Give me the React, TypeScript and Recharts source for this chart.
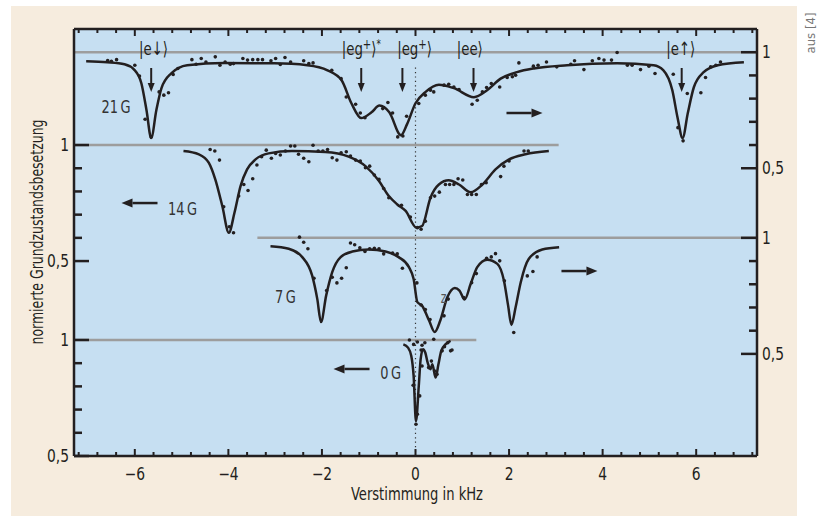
import React from 'react'
import {
  ComposedChart,
  Line,
  Scatter,
  XAxis,
  YAxis,
  CartesianGrid,
  ReferenceLine,
  ReferenceDot,
} from 'recharts'

const FONT = "'Liberation Sans Narrow', 'DejaVu Sans Condensed', 'Arial Narrow', sans-serif"
const INK = '#231f20'
const BEIGE = '#f6ecde'
const PLOT_BG = '#c6dff2'
const GREY_LINE = '#9d9d9d'
const SQUEEZE = 0.8 // the original uses a condensed face

// vertical offsets of the four stacked spectra (in population units)
const OFFSET_21G = 1.24
const OFFSET_14G = 0.84
const OFFSET_7G = 0.44
const OFFSET_0G = 0

// [detuning kHz, normalised ground state population]
const fit21: [number, number][] = [
  [-7.04, 0.961], [-6.59, 0.957], [-6.22, 0.948], [-6.01, 0.924], [-5.86, 0.866], [-5.75, 0.75],
  [-5.65, 0.63], [-5.54, 0.75], [-5.43, 0.845], [-5.22, 0.909], [-4.88, 0.944], [-4.09, 0.953],
  [-3.02, 0.952], [-2.31, 0.944], [-1.88, 0.922], [-1.58, 0.879], [-1.37, 0.78], [-1.16, 0.716],
  [-0.94, 0.741], [-0.77, 0.77], [-0.56, 0.741], [-0.31, 0.642], [-0.18, 0.69], [0, 0.78],
  [0.21, 0.828], [0.5, 0.86], [0.82, 0.845], [1.25, 0.806], [1.53, 0.836], [1.82, 0.886],
  [2.17, 0.914], [2.53, 0.93], [3.24, 0.944], [4.31, 0.952], [5.09, 0.944], [5.3, 0.922],
  [5.49, 0.836], [5.6, 0.72], [5.71, 0.63], [5.82, 0.737], [5.95, 0.849], [6.16, 0.914],
  [6.46, 0.944], [7.02, 0.957],
]
const dots21: [number, number][] = [
  [-6.58, 0.964], [-6.5, 0.961], [-6.39, 0.968], [-6.0, 0.944], [-5.9, 0.897], [-5.78, 0.711],
  [-5.65, 0.635], [-5.48, 0.829], [-5.38, 0.815], [-5.28, 0.825], [-5.18, 0.904], [-5.08, 0.93],
  [-4.78, 0.968], [-4.69, 0.948], [-4.58, 0.973], [-4.48, 0.958], [-4.28, 0.98], [-4.18, 0.944],
  [-4.07, 0.958], [-3.96, 0.948], [-3.89, 0.951], [-3.69, 0.973], [-3.59, 0.966], [-3.48, 0.968],
  [-3.37, 0.968], [-3.27, 0.968], [-3.09, 0.963], [-2.99, 0.973], [-2.89, 0.947], [-2.79, 0.977],
  [-2.67, 0.958], [-2.39, 0.963], [-2.28, 0.951], [-2.19, 0.954], [-1.79, 0.922], [-1.59, 0.886],
  [-1.48, 0.807], [-1.28, 0.776], [-1.18, 0.738], [-1.08, 0.718], [-0.7, 0.757], [-0.59, 0.783],
  [-0.49, 0.738], [-0.38, 0.635], [-0.27, 0.639], [-0.19, 0.724], [0.07, 0.779], [0.21, 0.815],
  [0.32, 0.836], [0.39, 0.829], [0.61, 0.858], [0.71, 0.862], [0.82, 0.85], [0.93, 0.839],
  [1.21, 0.776], [1.32, 0.793], [1.43, 0.829], [1.52, 0.848], [1.62, 0.865], [1.8, 0.85],
  [1.96, 0.891], [2.07, 0.894], [2.14, 0.901], [2.21, 0.954], [2.52, 0.94], [2.62, 0.944],
  [2.8, 0.958], [3.02, 0.937], [3.32, 0.948], [3.4, 0.963], [3.6, 0.925], [3.78, 0.963],
  [3.92, 0.973], [4.03, 0.966], [4.19, 0.966], [4.31, 0.999], [4.53, 0.944], [4.63, 0.944],
  [4.81, 0.925], [4.99, 0.94], [5.12, 0.908], [5.51, 0.905], [5.61, 0.675], [5.72, 0.618],
  [5.81, 0.822], [6.1, 0.825], [6.2, 0.891], [6.31, 0.937], [6.42, 0.944], [6.52, 0.958],
]

const fit14: [number, number][] = [
  [-4.96, 0.974], [-4.63, 0.96], [-4.42, 0.924], [-4.28, 0.852], [-4.13, 0.737], [-3.99, 0.622],
  [-3.87, 0.708], [-3.74, 0.823], [-3.6, 0.895], [-3.42, 0.938], [-3.14, 0.964], [-2.64, 0.974],
  [-1.93, 0.97], [-1.43, 0.95], [-1.07, 0.909], [-0.78, 0.845], [-0.57, 0.78], [-0.39, 0.744],
  [-0.21, 0.716], [0.02, 0.644], [0.14, 0.651], [0.32, 0.773], [0.5, 0.83], [0.71, 0.848],
  [0.93, 0.83], [1.18, 0.797], [1.43, 0.83], [1.71, 0.895], [2.0, 0.938], [2.35, 0.96],
  [2.85, 0.974],
]
const dots14: [number, number][] = [
  [-4.39, 0.981], [-4.29, 0.974], [-4.19, 0.935], [-4.1, 0.734], [-3.98, 0.648], [-3.89, 0.622],
  [-3.78, 0.78], [-3.67, 0.83], [-3.58, 0.804], [-3.48, 0.855], [-3.39, 0.914], [-3.29, 0.95],
  [-3.19, 0.978], [-3.08, 0.943], [-2.99, 0.964], [-2.89, 0.957], [-2.78, 0.974], [-2.67, 0.996],
  [-2.58, 0.996], [-2.5, 0.96], [-2.39, 0.943], [-2.28, 0.928], [-2.19, 0.999], [-2.08, 0.974],
  [-1.98, 0.974], [-1.88, 0.981], [-1.78, 0.945], [-1.68, 0.935], [-1.59, 0.967], [-1.48, 0.971],
  [-1.39, 0.953], [-1.28, 0.935], [-1.18, 0.931], [-1.07, 0.902], [-0.98, 0.909], [-0.88, 0.871],
  [-0.78, 0.852], [-0.68, 0.813], [-0.57, 0.773], [-0.3, 0.74], [-0.11, 0.69], [0.04, 0.644],
  [0.12, 0.637], [0.21, 0.672], [0.32, 0.773], [0.41, 0.78], [0.51, 0.797], [0.64, 0.83],
  [0.73, 0.83], [0.82, 0.83], [0.91, 0.855], [1.01, 0.849], [1.11, 0.787], [1.2, 0.787],
  [1.3, 0.787], [1.41, 0.83], [1.51, 0.838], [1.82, 0.864], [1.89, 0.909], [2.0, 0.931],
  [2.32, 0.974], [2.41, 0.974],
]

const fit7: [number, number][] = [
  [-3.1, 0.964], [-2.71, 0.953], [-2.42, 0.917], [-2.21, 0.838], [-2.1, 0.737], [-2.02, 0.637],
  [-1.91, 0.751], [-1.78, 0.852], [-1.6, 0.917], [-1.35, 0.941], [-1.0, 0.95], [-0.64, 0.941],
  [-0.36, 0.917], [-0.14, 0.874], [-0.04, 0.823], [0.04, 0.723], [0.14, 0.708], [0.29, 0.644],
  [0.41, 0.594], [0.53, 0.644], [0.68, 0.744], [0.84, 0.784], [0.94, 0.773], [1.05, 0.734],
  [1.18, 0.802], [1.32, 0.874], [1.53, 0.906], [1.75, 0.888], [1.89, 0.816], [1.98, 0.708],
  [2.05, 0.625], [2.14, 0.701], [2.25, 0.809], [2.42, 0.909], [2.71, 0.95], [3.07, 0.96],
]
const dots7: [number, number][] = [
  [-2.48, 1.003], [-2.39, 0.981], [-2.3, 0.953], [-2.17, 0.826], [-1.9, 0.773], [-1.78, 0.83],
  [-1.68, 0.806], [-1.58, 0.826], [-1.48, 0.871], [-1.39, 0.978], [-1.3, 0.97], [-1.19, 0.957],
  [-1.08, 0.941], [-0.98, 0.953], [-0.88, 0.955], [-0.78, 0.953], [-0.68, 0.931], [-0.49, 0.935],
  [-0.39, 0.931], [-0.28, 0.869], [0.03, 0.806], [0.12, 0.711], [0.21, 0.691], [0.31, 0.648],
  [0.39, 0.563], [0.61, 0.664], [0.7, 0.736], [1.03, 0.743], [1.2, 0.807], [1.3, 0.846],
  [1.52, 0.912], [1.62, 0.918], [1.71, 0.932], [1.8, 0.901], [1.9, 0.815], [2.1, 0.592],
  [2.39, 0.836], [2.51, 0.855], [2.6, 0.918],
]

const fit0: [number, number][] = [
  [-0.26, 0.981], [-0.16, 0.967], [-0.09, 0.931], [-0.04, 0.845], [0.01, 0.65], [0.07, 0.802],
  [0.11, 0.917], [0.16, 0.96], [0.21, 0.945], [0.26, 0.902], [0.32, 0.874], [0.36, 0.895],
  [0.43, 0.838], [0.49, 0.895], [0.55, 0.953], [0.64, 0.981], [0.75, 0.996],
]
const dots0: [number, number][] = [
  [-0.13, 1.0], [-0.04, 0.981], [0.04, 0.991], [0.14, 0.977], [0.2, 0.988], [0.12, 0.957],
  [-0.05, 0.805], [0.01, 0.637], [0.04, 0.68], [0.09, 0.759], [0.14, 0.888], [0.28, 0.881],
  [0.34, 0.909], [0.41, 0.866], [0.46, 0.852], [0.57, 0.953], [0.62, 0.971], [0.69, 0.988],
  [0.75, 0.953], [0.78, 0.957],
]

// axes
const X_DOMAIN = [-7.3, 7.3]
const Y_DOMAIN = [0.5, 2.34]
const xMajor = [-6, -4, -2, 0, 2, 4, 6]
const xTicks = [
  -7.2, -6.8, -6.4, -6, -5.6, -5.2, -4.8, -4.4, -4, -3.6, -3.2, -2.8, -2.4, -2, -1.6, -1.2, -0.8, -0.4,
  0, 0.4, 0.8, 1.2, 1.6, 2, 2.4, 2.8, 3.2, 3.6, 4, 4.4, 4.8, 5.2, 5.6, 6, 6.4, 6.8, 7.2,
]
const xLabels = ['−6', '−4', '−2', '0', '2', '4', '6']
const leftTicks = [0.5, 0.6, 0.7, 0.8, 0.9, 1, 1.34, 1.44, 1.54, 1.64, 1.74, 1.84]
const leftLabels = ['0,5', '', '', '', '', '1', '0,5', '', '', '', '', '1']
const rightTicks = [0.94, 1.04, 1.14, 1.24, 1.34, 1.44, 1.74, 1.84, 1.94, 2.04, 2.14, 2.24]
const rightLabels = ['0,5', '', '', '', '', '1', '0,5', '', '', '', '', '1']

// grey unit lines for each spectrum
const baselines = [
  { level: 1 + OFFSET_21G, from: -7.3, to: 7.3 },
  { level: 1 + OFFSET_14G, from: -7.3, to: 3.06 },
  { level: 1 + OFFSET_7G, from: -3.38, to: 7.3 },
  { level: 1 + OFFSET_0G, from: -7.3, to: 1.3 },
]

// annotations
const kets = [
  { x: -5.6, body: 'e↓', sup: '', star: false },
  { x: -1.16, body: 'eg', sup: '+', star: true },
  { x: -0.02, body: 'eg', sup: '+', star: false },
  { x: 1.16, body: 'ee', sup: '', star: false },
  { x: 5.67, body: 'e↑', sup: '', star: false },
]
const KET_Y = 2.228
const downArrowX = [-5.65, -1.16, -0.28, 1.24, 5.69]
const DOWN_ARROW_Y = 2.172
const sideArrows = [
  { x: 1.945, y: 1.978, dir: 1 },
  { x: -5.515, y: 1.59, dir: -1 },
  { x: 3.12, y: 1.297, dir: 1 },
  { x: -0.983, y: 0.875, dir: -1 },
]
const fieldLabels = [
  { x: -6.4, y: 1.978, text: '21\u2009G' },
  { x: -4.98, y: 1.538, text: '14\u2009G' },
  { x: -2.78, y: 1.159, text: '7\u2009G' },
  { x: -0.53, y: 0.832, text: '0\u2009G' },
]

const toPoints = (rows: [number, number][], offset: number) =>
  rows.map(([x, v]) => ({ x, y: +(v + offset).toFixed(4) }))

const near = (a: number, b: number) => Math.abs(a - b) < 1e-6

// text squeezed horizontally around its anchor point
function Cond({ x, y, anchor = 'middle', size = 17, fill = INK, sx = SQUEEZE, children }: any) {
  return (
    <g transform={`translate(${x},${y}) scale(${sx},1)`}>
      <text x={0} y={0} textAnchor={anchor} fontSize={size} fontFamily={FONT} fill={fill}>
        {children}
      </text>
    </g>
  )
}

function BottomTick({ x, y, payload }: any) {
  const i = xMajor.findIndex(m => near(m, payload.value))
  const major = i >= 0
  return (
    <g>
      <line x1={x} x2={x} y1={y} y2={y - (major ? 7 : 4)} stroke={INK} strokeWidth={2} />
      {major && (
        <Cond x={x} y={y + 24} size={17.5} sx={0.88}>
          {xLabels[i]}
        </Cond>
      )}
    </g>
  )
}

function TopTick({ x, y, payload }: any) {
  const major = xMajor.some(m => near(m, payload.value))
  return <line x1={x} x2={x} y1={y} y2={y + (major ? 7 : 4)} stroke={INK} strokeWidth={2} />
}

function LeftTick({ x, y, payload }: any) {
  const i = leftTicks.findIndex(t => near(t, payload.value))
  const label = leftLabels[i]
  return (
    <g>
      <line x1={x} x2={x + (label ? 15 : 8)} y1={y} y2={y} stroke={INK} strokeWidth={2.5} />
      {label && (
        <Cond x={x - 5} y={y + 6} anchor="end" size={17.5} sx={0.88}>
          {label}
        </Cond>
      )}
    </g>
  )
}

function RightTick({ x, y, payload }: any) {
  const i = rightTicks.findIndex(t => near(t, payload.value))
  const label = rightLabels[i]
  return (
    <g>
      <line x1={x} x2={x - (label ? 16 : 8)} y1={y} y2={y} stroke={INK} strokeWidth={2.5} />
      {label && (
        <Cond x={x + 5} y={y + 6} anchor="start" size={17.5} sx={0.88}>
          {label}
        </Cond>
      )}
    </g>
  )
}

const dotShape = (p: any) => <circle cx={p.cx} cy={p.cy} r={1.8} fill={INK} />

const axisLine = { stroke: INK, strokeWidth: 2.5 }

export default function App() {
  const series = [
    { fit: fit21, dots: dots21, offset: OFFSET_21G },
    { fit: fit14, dots: dots14, offset: OFFSET_14G },
    { fit: fit7, dots: dots7, offset: OFFSET_7G },
    { fit: fit0, dots: dots0, offset: OFFSET_0G },
  ]

  return (
    <div style={{ position: 'relative', width: 825, height: 516, background: '#fff' }}>
      <style>{'body{margin:0}'}</style>
      <div style={{ position: 'absolute', left: 11, top: 6, width: 786, height: 510, background: BEIGE }} />
      <div style={{ position: 'absolute', left: 0, top: 0 }}>
        <ComposedChart width={825} height={516} margin={{ top: 19, right: 28, bottom: 30, left: 34 }}>
          <CartesianGrid xAxisId="bottom" yAxisId="left" fill={PLOT_BG} fillOpacity={1} stroke="none" horizontal={false} vertical={false} />
          <XAxis
            xAxisId="bottom"
            type="number"
            dataKey="x"
            domain={X_DOMAIN}
            allowDataOverflow
            ticks={xTicks}
            interval={0}
            height={30}
            tickSize={0}
            tickMargin={0}
            tickLine={false}
            axisLine={axisLine}
            tick={<BottomTick />}
          />
          <XAxis
            xAxisId="top"
            orientation="top"
            type="number"
            dataKey="x"
            domain={X_DOMAIN}
            allowDataOverflow
            ticks={xTicks}
            interval={0}
            height={10}
            tickSize={0}
            tickMargin={0}
            tickLine={false}
            axisLine={axisLine}
            tick={<TopTick />}
          />
          <YAxis
            yAxisId="left"
            type="number"
            domain={Y_DOMAIN}
            allowDataOverflow
            ticks={leftTicks}
            interval={0}
            width={40}
            tickSize={0}
            tickMargin={0}
            tickLine={false}
            axisLine={axisLine}
            tick={<LeftTick />}
          />
          <YAxis
            yAxisId="right"
            orientation="right"
            type="number"
            domain={Y_DOMAIN}
            allowDataOverflow
            ticks={rightTicks}
            interval={0}
            width={40}
            tickSize={0}
            tickMargin={0}
            tickLine={false}
            axisLine={axisLine}
            tick={<RightTick />}
          />

          {baselines.map((b, i) => (
            <ReferenceLine
              key={'b' + i}
              xAxisId="bottom"
              yAxisId="left"
              segment={[{ x: b.from, y: b.level }, { x: b.to, y: b.level }]}
              stroke={GREY_LINE}
              strokeWidth={2.5}
            />
          ))}
          <ReferenceLine
            xAxisId="bottom"
            yAxisId="left"
            segment={[{ x: 0, y: 0.5 }, { x: 0, y: 2.18 }]}
            stroke="#333"
            strokeWidth={1.2}
            strokeDasharray="1.2 3.2"
          />

          {series.map((s, i) => (
            <Line
              key={'l' + i}
              xAxisId="bottom"
              yAxisId="left"
              data={toPoints(s.fit, s.offset)}
              dataKey="y"
              type="monotone"
              stroke={INK}
              strokeWidth={2.5}
              dot={false}
              activeDot={false}
              isAnimationActive={false}
            />
          ))}
          {series.map((s, i) => (
            <Scatter
              key={'s' + i}
              xAxisId="bottom"
              yAxisId="left"
              data={toPoints(s.dots, s.offset)}
              dataKey="y"
              shape={dotShape}
              isAnimationActive={false}
            />
          ))}

          {kets.map((k, i) => (
            <ReferenceDot
              key={'k' + i}
              xAxisId="bottom"
              yAxisId="left"
              x={k.x}
              y={KET_Y}
              r={0}
              shape={(p: any) => (
                <Cond x={p.cx} y={p.cy} size={18.5}>
                  |{k.body}
                  {k.sup && <tspan dy={-6} fontSize={14}>{k.sup}</tspan>}
                  <tspan dy={k.sup ? 6 : 0}>⟩</tspan>
                  {k.star && <tspan dy={-7} fontSize={12}>*</tspan>}
                </Cond>
              )}
            />
          ))}
          {downArrowX.map((x, i) => (
            <ReferenceDot
              key={'d' + i}
              xAxisId="bottom"
              yAxisId="left"
              x={x}
              y={DOWN_ARROW_Y}
              r={0}
              shape={(p: any) => (
                <g>
                  <line x1={p.cx} x2={p.cx} y1={p.cy} y2={p.cy + 17} stroke={INK} strokeWidth={2} />
                  <path d={`M${p.cx - 3.5},${p.cy + 15} L${p.cx + 3.5},${p.cy + 15} L${p.cx},${p.cy + 24} Z`} fill={INK} />
                </g>
              )}
            />
          ))}
          {sideArrows.map((a, i) => (
            <ReferenceDot
              key={'a' + i}
              xAxisId="bottom"
              yAxisId="left"
              x={a.x}
              y={a.y}
              r={0}
              shape={(p: any) => {
                const tip = p.cx + a.dir * 36
                const base = tip - a.dir * 11
                return (
                  <g>
                    <line x1={p.cx} x2={base} y1={p.cy} y2={p.cy} stroke={INK} strokeWidth={2.5} />
                    <path d={`M${base},${p.cy - 4.5} L${tip},${p.cy} L${base},${p.cy + 4.5} Z`} fill={INK} />
                  </g>
                )
              }}
            />
          ))}
          {fieldLabels.map((f, i) => (
            <ReferenceDot
              key={'f' + i}
              xAxisId="bottom"
              yAxisId="left"
              x={f.x}
              y={f.y}
              r={0}
              shape={(p: any) => (
                <Cond x={p.cx} y={p.cy} size={18} fill="#333">
                  {f.text}
                </Cond>
              )}
            />
          ))}
          <ReferenceDot
            xAxisId="bottom"
            yAxisId="left"
            x={0.6}
            y={1.159}
            r={0}
            shape={(p: any) => (
              <Cond x={p.cx} y={p.cy} size={15} fill="#555">
                z
              </Cond>
            )}
          />
        </ComposedChart>
      </div>
      <svg width={825} height={516} style={{ position: 'absolute', left: 0, top: 0, pointerEvents: 'none' }}>
        <text
          x={417}
          y={500}
          textAnchor="middle"
          fontSize={18}
          fontFamily={FONT}
          fill={INK}
          textLength={132}
          lengthAdjust="spacingAndGlyphs"
        >
          Verstimmung in kHz
        </text>
        <text
          x={0}
          y={0}
          transform="translate(43,232) rotate(-90)"
          textAnchor="middle"
          fontSize={18}
          fontFamily={FONT}
          fill={INK}
          textLength={225}
          lengthAdjust="spacingAndGlyphs"
        >
          normierte Grundzustandsbesetzung
        </text>
        <text
          x={0}
          y={0}
          transform="translate(815,33) rotate(-90)"
          textAnchor="middle"
          fontSize={13}
          fontFamily={FONT}
          fill="#777"
        >
          aus [4]
        </text>
      </svg>
    </div>
  )
}
